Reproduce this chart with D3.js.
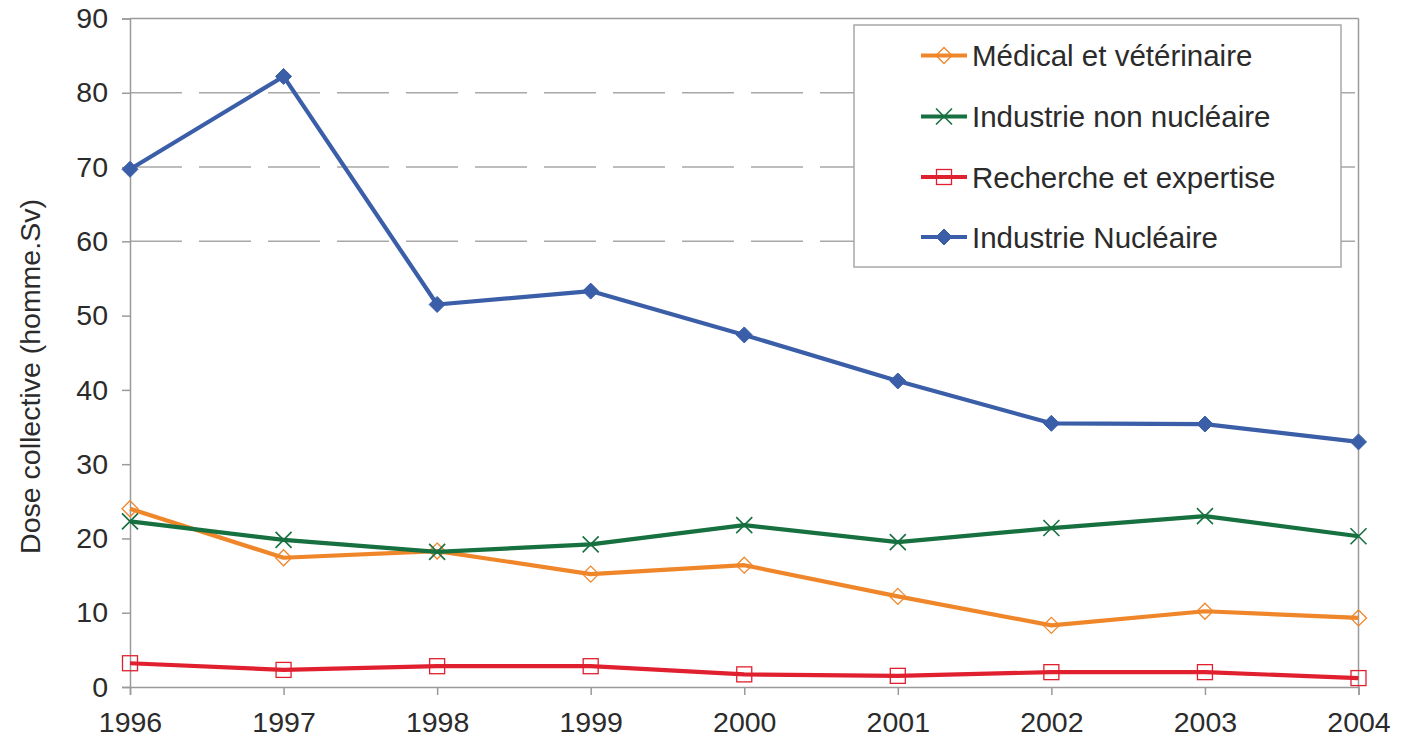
<!DOCTYPE html>
<html>
<head>
<meta charset="utf-8">
<script src="https://cdn.jsdelivr.net/npm/d3@7"></script>
<style>
  html, body { margin: 0; padding: 0; background: #fff; }
  svg { display: block; }
  text { font-family: "Liberation Sans", Arial, sans-serif; fill: #2b2b2b; }
</style>
</head>
<body>
<svg id="chart" width="1402" height="742"></svg>
<script>
const years = [1996, 1997, 1998, 1999, 2000, 2001, 2002, 2003, 2004];
const medical = [24.0, 17.4, 18.3, 15.2, 16.4, 12.2, 8.3, 10.2, 9.3];
const industrieNonNucleaire = [22.3, 19.8, 18.2, 19.2, 21.8, 19.5, 21.4, 23.0, 20.3];
const recherche = [3.2, 2.3, 2.8, 2.8, 1.7, 1.5, 2.0, 2.0, 1.2];
const industrieNucleaire = [69.7, 82.2, 51.5, 53.3, 47.4, 41.2, 35.5, 35.4, 33.0];
const yTicks = [0, 10, 20, 30, 40, 50, 60, 70, 80, 90];
const dashedGrid = [60, 70, 80];
const seriesNames = ["Médical et vétérinaire", "Industrie non nucléaire", "Recherche et expertise", "Industrie Nucléaire"];
const yTitle = "Dose collective (homme.Sv)";

const series = [
  { name: seriesNames[0], values: medical, color: "#f0862a", marker: "diamondOpen" },
  { name: seriesNames[1], values: industrieNonNucleaire, color: "#17703f", marker: "cross" },
  { name: seriesNames[2], values: recherche, color: "#e0202f", marker: "squareOpen" },
  { name: seriesNames[3], values: industrieNucleaire, color: "#3b5ea8", marker: "diamond" }
];
const svg = d3.select("#chart");
const mLeft = 130, mRight = 1358.5, mTop = 18.5, mBottom = 687;
const x = d3.scaleLinear().domain([1996, 2004]).range([mLeft, mRight]);
const y = d3.scaleLinear().domain([0, 90]).range([mBottom, mTop]);
const axisColor = "#9a9a9a";

// dashed gridlines
svg.append("g").selectAll("line").data(dashedGrid).join("line")
  .attr("x1", mLeft).attr("x2", mRight)
  .attr("y1", d => y(d)).attr("y2", d => y(d))
  .attr("stroke", "#a8a8a8").attr("stroke-width", 1.5)
  .attr("stroke-dasharray", "52,17");

// top border and right border
svg.append("line").attr("x1", mLeft).attr("x2", mRight).attr("y1", y(90)).attr("y2", y(90))
  .attr("stroke", axisColor).attr("stroke-width", 1.5);
svg.append("line").attr("x1", mRight).attr("x2", mRight).attr("y1", y(90)).attr("y2", y(0))
  .attr("stroke", axisColor).attr("stroke-width", 1.5);

// y axis
const yAxis = d3.axisLeft(y).tickValues(yTicks).tickSize(8).tickPadding(14).tickFormat(d3.format("d"));
const gy = svg.append("g").attr("transform", `translate(${mLeft},0)`).call(yAxis);
gy.select(".domain").attr("stroke", axisColor).attr("stroke-width", 1.5);
gy.selectAll(".tick line").attr("stroke", axisColor).attr("stroke-width", 1.5);
gy.selectAll(".tick text").attr("font-size", 28.5).attr("fill", "#2b2b2b")
  .attr("font-family", "'Liberation Sans', Arial, sans-serif");

// x axis
const xAxis = d3.axisBottom(x).tickValues(years).tickSize(8).tickPadding(17).tickFormat(d3.format("d"));
const gx = svg.append("g").attr("transform", `translate(0,${mBottom})`).call(xAxis);
gx.select(".domain").attr("stroke", axisColor).attr("stroke-width", 1.5);
gx.selectAll(".tick line").attr("stroke", axisColor).attr("stroke-width", 1.5);
gx.selectAll(".tick text").attr("font-size", 28.5).attr("fill", "#2b2b2b")
  .attr("font-family", "'Liberation Sans', Arial, sans-serif");

// y title
svg.append("text")
  .attr("transform", `translate(40,${(198 + 555) / 2}) rotate(-90)`)
  .attr("text-anchor", "middle")
  .attr("font-size", 28.5)
  .text(yTitle);

function drawMarker(g, type, color) {
  if (type === "diamond") {
    g.append("path").attr("d", "M0,-8 L8,0 L0,8 L-8,0 Z").attr("fill", color).attr("stroke", color).attr("stroke-width", 1);
  } else if (type === "diamondOpen") {
    g.append("path").attr("d", "M0,-8 L8,0 L0,8 L-8,0 Z").attr("fill", "none").attr("stroke", color).attr("stroke-width", 1.3);
  } else if (type === "squareOpen") {
    g.append("rect").attr("x", -7.5).attr("y", -7.5).attr("width", 15).attr("height", 15)
      .attr("fill", "none").attr("stroke", color).attr("stroke-width", 1.3);
  } else if (type === "cross") {
    g.append("path").attr("d", "M-8,-8 L8,8 M-8,8 L8,-8").attr("fill", "none").attr("stroke", color).attr("stroke-width", 1.6);
  }
}

const line = d3.line().x((d, i) => x(years[i])).y(d => y(d));
series.forEach(s => {
  const g = svg.append("g");
  g.append("path").datum(s.values).attr("d", line)
    .attr("fill", "none").attr("stroke", s.color).attr("stroke-width", 4.2)
    .attr("stroke-linejoin", "round");
  s.values.forEach((v, i) => {
    const mg = g.append("g").attr("transform", `translate(${x(years[i])},${y(v)})`);
    drawMarker(mg, s.marker, s.color);
  });
});

// legend
const lg = svg.append("g");
lg.append("rect").attr("x", 854).attr("y", 25).attr("width", 487).attr("height", 242)
  .attr("fill", "#fff").attr("stroke", "#a8a8a8").attr("stroke-width", 1.5);
const rowY = [55.5, 116.5, 177, 237];
series.forEach((s, i) => {
  const row = lg.append("g").attr("transform", `translate(0,${rowY[i]})`);
  row.append("line").attr("x1", 921).attr("x2", 967).attr("y1", 0).attr("y2", 0)
    .attr("stroke", s.color).attr("stroke-width", 4.2);
  const mg = row.append("g").attr("transform", "translate(944,0)");
  drawMarker(mg, s.marker, s.color);
  row.append("text").attr("x", 972).attr("y", 0).attr("dy", "0.36em")
    .attr("font-size", 29.5).text(s.name);
});
</script>
</body>
</html>
